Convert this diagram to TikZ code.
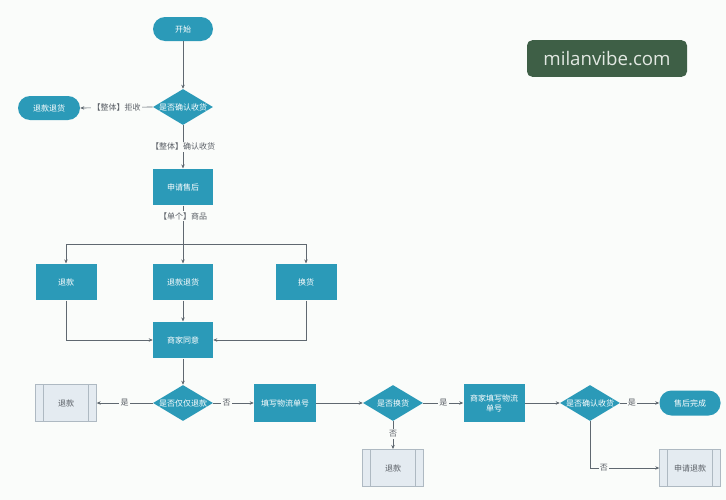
\documentclass[tikz,border=0pt]{standalone}
\usepackage{fontspec}
\newfontfamily\cjk{Noto Sans CJK SC}
\newfontfamily\wmfont{Open Sans}
\usetikzlibrary{shapes.geometric,arrows.meta}
\definecolor{teal1}{HTML}{2B9AB8}
\definecolor{lnc}{HTML}{5F6870}
\definecolor{lbc}{HTML}{5A5F66}
\definecolor{bgc}{HTML}{FAFCFA}
\definecolor{subfill}{HTML}{E4EBF1}
\definecolor{subdraw}{HTML}{AEB9C2}
\definecolor{wmfill}{HTML}{3E5F46}
\definecolor{wmtext}{HTML}{E2E8E2}
\tikzset{
  x=0.75pt, y=-0.75pt,
  base/.style={font=\cjk\fontsize{6}{7.5}\selectfont, align=center, inner sep=0pt},
  term/.style={base, fill=teal1, text=white, rounded corners=9pt, minimum width=45pt, minimum height=18pt},
  proc/.style={base, fill=teal1, text=white, minimum width=45pt, minimum height=27.5pt},
  dec/.style={base, diamond, fill=teal1, minimum width=45pt, minimum height=27pt},
  dtext/.style={font=\cjk\fontsize{6}{7.5}\selectfont, text=white, inner sep=0pt},
  subbox/.style={base, fill=subfill, draw=subdraw, line width=0.5pt, text=lbc, minimum width=45.5pt, minimum height=28pt,
    path picture={
      \draw[subdraw, line width=0.5pt] ([xshift=6pt]path picture bounding box.north west) -- ([xshift=6pt]path picture bounding box.south west);
      \draw[subdraw, line width=0.5pt] ([xshift=-6pt]path picture bounding box.north east) -- ([xshift=-6pt]path picture bounding box.south east);
    }},
  conn/.style={draw=lnc, line width=0.5pt},
  arr/.style={conn, -{Stealth[length=3pt,width=2.6pt]}},
  elab/.style={font=\cjk\fontsize{6}{7.5}\selectfont, text=lbc, fill=bgc, inner sep=1pt},
}
\begin{document}
\begin{tikzpicture}
\fill[bgc] (0,0) rectangle (726,500);
\useasboundingbox (0,0) rectangle (726,500);

% watermark
\node[fill=wmfill, rounded corners=4pt, minimum width=120pt, minimum height=27.5pt, inner sep=0pt,
  text=wmtext, font=\wmfont\fontsize{14}{16}\selectfont] (wm) at (607,58.5) {milanvibe.com};

% top part
\node[term] (start) at (183,29) {开始};
\node[dec, label={[dtext]center:是否确认收货}] (d1) at (183,107) {};
\node[term, minimum width=46.5pt] (rr) at (49,108) {退款退货};
\node[proc] (apply) at (183,187) {申请售后};

\coordinate (jn) at (183,244);
\node[proc, minimum width=45.75pt] (b1) at (66,282) {退款};
\node[proc] (b2) at (183,282) {退款退货};
\node[proc, minimum width=45.75pt] (b3) at (306,282) {换货};
\node[proc] (agree) at (183,340) {商家同意};

% bottom row
\node[dec, label={[dtext]center:是否仅仅退款}] (d2) at (183,403) {};
\node[subbox] (g1) at (66,403) {退款};
\node[proc, minimum width=46.5pt, minimum height=28.5pt] (fill) at (285,403) {填写物流单号};
\node[dec, label={[dtext]center:是否换货}] (d3) at (393,403) {};
\node[proc, minimum width=45.75pt, minimum height=28.5pt] (mfill) at (494,403) {商家填写物流\\单号};
\node[dec, label={[dtext]center:是否确认收货}] (d4) at (590,403) {};
\node[term, minimum width=45.75pt, minimum height=18.75pt] (done) at (690,403) {售后完成};
\node[subbox] (g2) at (393,468) {退款};
\node[subbox] (g3) at (690,468) {申请退款};

% connectors
\draw[arr] (start.south) -- (d1.north);
\draw[arr] (d1.west) -- node[elab, pos=0.5] {【整体】拒收} (rr.east);
\draw[arr] (d1.south) -- node[elab, pos=0.5] {【整体】确认收货} (apply.north);
\draw[conn] (apply.south) -- node[elab, pos=0.28] {【单个】商品} (jn);
\draw[arr] (jn) -| (b1.north);
\draw[arr] (jn) -| (b3.north);
\draw[arr] (jn) -- (b2.north);
\draw[arr] (b1.south) |- (agree.west);
\draw[arr] (b3.south) |- (agree.east);
\draw[arr] (b2.south) -- (agree.north);
\draw[arr] (agree.south) -- (d2.north);
\draw[arr] (d2.west) -- node[elab, pos=0.5] {是} (g1.east);
\draw[arr] (d2.east) -- node[elab, pos=0.33] {否} (fill.west);
\draw[arr] (fill.east) -- (d3.west);
\draw[arr] (d3.east) -- node[elab, pos=0.5] {是} (mfill.west);
\draw[arr] (d3.south) -- node[elab, pos=0.45] {否} (g2.north);
\draw[arr] (mfill.east) -- (d4.west);
\draw[arr] (d4.east) -- node[elab, pos=0.3] {是} (done.west);
\draw[arr] (d4.south) |- node[elab, pos=0.6] {否} (g3.west);
\end{tikzpicture}
\end{document}
